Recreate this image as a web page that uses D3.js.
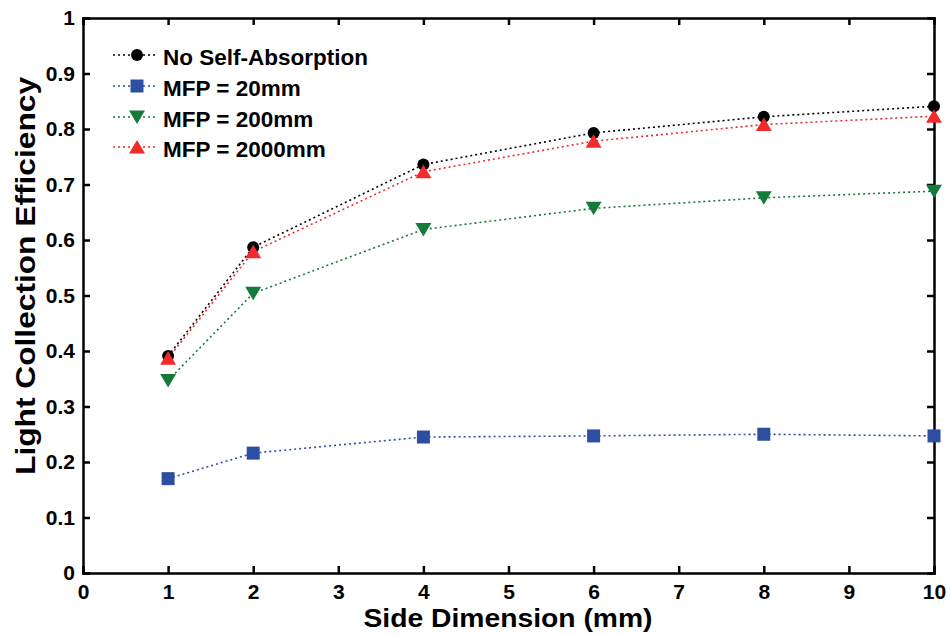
<!DOCTYPE html>
<html><head><meta charset="utf-8">
<script src="https://cdn.jsdelivr.net/npm/d3@7"></script>
<style>body{margin:0;background:#fff;} text{font-family:"Liberation Sans",Arial,sans-serif;font-weight:bold;}</style>
</head><body><svg id="c" width="950" height="635"></svg>
<script>
const sideDim = [1, 2, 4, 6, 8, 10];
const noSelfAbs = [0.391, 0.587, 0.736, 0.793, 0.822, 0.841];
const mfp20 = [0.170, 0.216, 0.245, 0.247, 0.250, 0.247];
const mfp200 = [0.347, 0.504, 0.619, 0.657, 0.676, 0.688];
const mfp2000 = [0.387, 0.579, 0.723, 0.778, 0.808, 0.823];
const seriesNames = ["No Self-Absorption", "MFP = 20mm", "MFP = 200mm", "MFP = 2000mm"];
const xTicks = [0,1,2,3,4,5,6,7,8,9,10];
const yTicks = [0,0.1,0.2,0.3,0.4,0.5,0.6,0.7,0.8,0.9,1];

const svg = d3.select("#c");
const L = 83, R = 934, T = 18, B = 573;
const x = d3.scaleLinear().domain([0, 10]).range([L, R]);
const y = d3.scaleLinear().domain([0, 1]).range([B, T]);

const series = [
  {name: seriesNames[0], vals: noSelfAbs, color: "#000000", marker: "circle"},
  {name: seriesNames[1], vals: mfp20, color: "#2d4ea3", marker: "square"},
  {name: seriesNames[2], vals: mfp200, color: "#157a3a", marker: "down"},
  {name: seriesNames[3], vals: mfp2000, color: "#f22a2a", marker: "up"}
];

function drawMarker(g, type, cx, cy, color) {
  if (type === "circle") g.append("circle").attr("cx", cx).attr("cy", cy).attr("r", 6).attr("fill", color);
  else if (type === "square") g.append("rect").attr("x", cx-6.5).attr("y", cy-6.5).attr("width", 13).attr("height", 13).attr("fill", color);
  else if (type === "down") g.append("path").attr("d", `M${cx-8},${cy-6.5}L${cx+8},${cy-6.5}L${cx},${cy+7}Z`).attr("fill", color);
  else if (type === "up") g.append("path").attr("d", `M${cx-8},${cy+6.5}L${cx+8},${cy+6.5}L${cx},${cy-7}Z`).attr("fill", color);
}

// axes
const ax = svg.append("g");
ax.append("g").attr("transform", `translate(0,${B})`)
  .call(d3.axisBottom(x).tickValues(xTicks).tickSize(-7).tickPadding(11).tickFormat(d3.format("d")));
ax.append("g").attr("transform", `translate(0,${T})`)
  .call(d3.axisTop(x).tickValues(xTicks).tickSize(-7).tickFormat(""));
ax.append("g").attr("transform", `translate(${L},0)`)
  .call(d3.axisLeft(y).tickValues(yTicks).tickSize(-7).tickPadding(8).tickFormat(d => d === 0 ? "0" : (d === 1 ? "1" : d3.format(".1f")(d))));
ax.append("g").attr("transform", `translate(${R},0)`)
  .call(d3.axisRight(y).tickValues(yTicks).tickSize(-7).tickFormat(""));
ax.selectAll(".domain").attr("stroke", "#000").attr("stroke-width", 2.5);
ax.selectAll(".tick line").attr("stroke", "#000").attr("stroke-width", 2.5);
ax.selectAll(".tick text").attr("font-size", 21).attr("fill", "#000").style("font-weight", "bold");

// series lines
const line = d3.line().x((d, i) => x(sideDim[i])).y(d => y(d));
series.forEach(s => {
  svg.append("path").datum(s.vals).attr("d", line).attr("fill", "none")
    .attr("stroke", s.color).attr("stroke-width", 1.6).attr("stroke-dasharray", "2,3");
});
series.forEach(s => {
  const g = svg.append("g");
  s.vals.forEach((v, i) => drawMarker(g, s.marker, x(sideDim[i]), y(v), s.color));
});

// legend
const legY = [55, 86, 117, 147];
series.forEach((s, i) => {
  const g = svg.append("g");
  g.append("line").attr("x1", 113).attr("x2", 157).attr("y1", legY[i]).attr("y2", legY[i])
    .attr("stroke", s.color).attr("stroke-width", 1.6).attr("stroke-dasharray", "2,3");
  drawMarker(g, s.marker, 137, legY[i], s.color);
  g.append("text").attr("x", 163).attr("y", legY[i] + 10).attr("font-size", 22.5).text(s.name);
});

// axis titles
svg.append("text").attr("x", 508).attr("y", 627).attr("text-anchor", "middle").attr("font-size", 25)
  .attr("textLength", 289).attr("lengthAdjust", "spacingAndGlyphs").text("Side Dimension (mm)");
svg.append("text").attr("transform", "translate(35,276) rotate(-90)").attr("text-anchor", "middle").attr("font-size", 27)
  .attr("textLength", 398).attr("lengthAdjust", "spacingAndGlyphs").text("Light Collection Efficiency");
</script></body></html>
